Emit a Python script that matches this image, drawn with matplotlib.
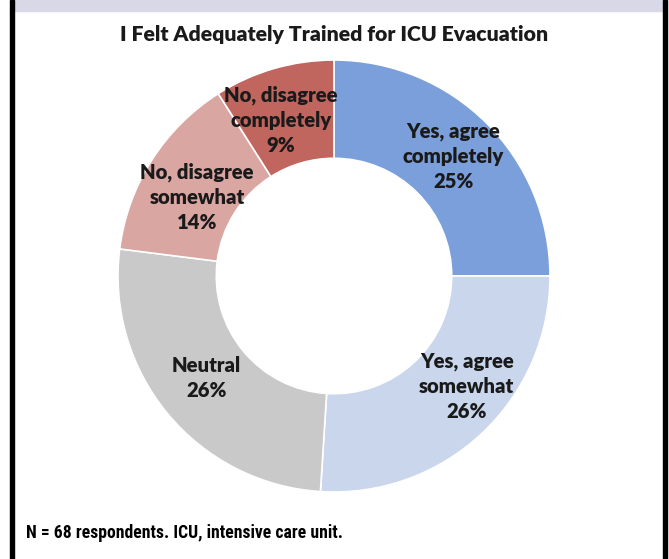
import matplotlib
matplotlib.use("Agg")
import matplotlib.pyplot as plt
from matplotlib import font_manager
from matplotlib.font_manager import FontProperties
import numpy as np
from matplotlib.patches import Rectangle

categories = ["Yes, agree\ncompletely", "Yes, agree\nsomewhat", "Neutral",
              "No, disagree\nsomewhat", "No, disagree\ncompletely"]
values = [25, 26, 26, 14, 9]
colors = ["#7A9FDA", "#C9D6EC", "#C9C9C9", "#D9A6A2", "#C0665E"]
title = "I Felt Adequately Trained for ICU Evacuation"
footer = "N = 68 respondents. ICU, intensive care unit."

# label placement (angle offset in degrees, radius fraction)
label_nudge = [(0, 0.78), (7, 0.80), (-1, 0.755), (2.4, 0.733), (2.6, 0.762)]

W, H = 669, 559
fig = plt.figure(figsize=(W / 100, H / 100), dpi=100)
fig.patch.set_facecolor("white")

fig.patches.append(Rectangle((14 / W, 1 - 11 / H), (663 - 14) / W, 11 / H,
                             transform=fig.transFigure, color="#D8D8E7", zorder=0))
fig.patches.append(Rectangle((10 / W, 0), 4 / W, 1, transform=fig.transFigure,
                             color="black", zorder=1))
fig.patches.append(Rectangle((663 / W, 0), 4 / W, 1, transform=fig.transFigure,
                             color="black", zorder=1))

cx, cy, R = 334, 276, 216
ax = fig.add_axes([(cx - R) / W, (H - cy - R) / H, 2 * R / W, 2 * R / H])
wedges, _ = ax.pie(values, colors=colors, startangle=90, counterclock=False,
                   radius=1.0, wedgeprops=dict(width=0.455, edgecolor="white", linewidth=1.2))
ax.set_xlim(-1, 1)
ax.set_ylim(-1, 1)
ax.set_aspect("equal")
ax.axis("off")

lab_font = ["Lato", "DejaVu Sans"]
for w, cat, v, (da, rf) in zip(wedges, categories, values, label_nudge):
    ang = np.deg2rad((w.theta1 + w.theta2) / 2 + da)
    ax.text(rf * np.cos(ang), rf * np.sin(ang), f"{cat}\n{v}%", ha="center", va="center",
            fontsize=14.6, fontweight="heavy", family=lab_font, color="#1A1A1A",
            linespacing=1.38)

fig.text(cx / W, 1 - 34 / H, title, ha="center", va="center", fontsize=15.3,
         fontweight="heavy", family=lab_font, color="#1A1A1A")


# footer in a bold condensed face if one is installed
def wnum(f):
    w = f.weight
    if isinstance(w, int):
        return w
    return {"bold": 700, "heavy": 800, "black": 900, "demibold": 600,
            "semibold": 600}.get(str(w), 400)


cands = [f for f in font_manager.fontManager.ttflist
         if ("Narrow" in f.name or "Condensed" in f.name)
         and "Mono" not in f.name and "Serif" not in f.name and f.style == "normal"]
pref = ["Liberation Sans Narrow", "Roboto Condensed", "DejaVu Sans Condensed"]


def rank(f):
    r = pref.index(f.name) if f.name in pref else len(pref)
    return (r, abs(wnum(f) - 700))


cands.sort(key=rank)
if cands:
    best = cands[0]
    fp = FontProperties(fname=best.fname, size=13,
                        weight="bold" if wnum(best) < 600 else "normal")
else:
    fp = FontProperties(family=["Roboto", "DejaVu Sans"], weight="bold", size=13)
ft = fig.text(26 / W, 1 - 533 / H, footer, ha="left", va="center", fontproperties=fp,
              color="black")
fig.canvas.draw()
wpx = ft.get_window_extent().width
ft.set_fontsize(13 * 314 / wpx)

fig.savefig("out.png", dpi=100)
